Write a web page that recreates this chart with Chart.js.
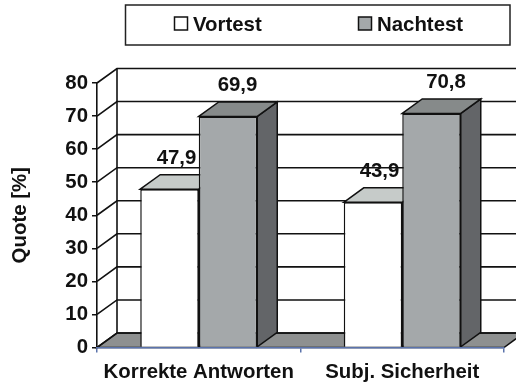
<!DOCTYPE html>
<html><head><meta charset="utf-8">
<style>html,body{margin:0;padding:0;background:#fff}canvas{display:block}</style>
<script src="https://cdn.jsdelivr.net/npm/chart.js@4"></script>
</head><body><canvas id="c" width="516" height="384"></canvas>
<script>
const categories = ["Korrekte Antworten", "Subj. Sicherheit"];
const vortest = [47.9, 43.9];
const nachtest = [69.9, 70.8];
const vortestLabel = "Vortest";
const nachtestLabel = "Nachtest";
const yTicks = [0, 10, 20, 30, 40, 50, 60, 70, 80];

const DX = 20, DY = 14.5;
const FAMILY = '"Liberation Sans", Arial, sans-serif';
const FONT = 'bold 20.4px ' + FAMILY;
const TICK_FONT = { family: FAMILY, size: 20.4, weight: 'bold' };
const faces = [
  { top: '#c6cbc9', side: '#64666a' },
  { top: '#868a8a', side: '#636568' }
];
const labelShift = [[7, 9.5], [6.5, 14.5]]; // per category, per dataset
const poly = (ctx, pts, fill) => {
  ctx.beginPath();
  pts.forEach((p, i) => i ? ctx.lineTo(p[0], p[1]) : ctx.moveTo(p[0], p[1]));
  ctx.closePath();
  ctx.fillStyle = fill; ctx.fill();
  ctx.lineWidth = 1.5; ctx.strokeStyle = '#111'; ctx.stroke();
};
const drawFaces = (ctx, meta, f) => {
  meta.data.forEach(b => {
    const l = b.x - b.width / 2, r = b.x + b.width / 2, t = b.y, base = b.base;
    poly(ctx, [[r, t], [r + DX, t - DY], [r + DX, base - DY], [r, base]], f.side);
    poly(ctx, [[l, t], [l + DX, t - DY], [r + DX, t - DY], [r, t]], f.top);
  });
};
const drawLabels = (chart, idx) => {
  const ctx = chart.ctx, ds = chart.data.datasets[idx];
  ctx.font = FONT; ctx.fillStyle = '#111';
  ctx.textAlign = 'center'; ctx.textBaseline = 'middle';
  chart.getDatasetMeta(idx).data.forEach((b, i) => {
    ctx.fillText(ds.data[i].toFixed(1).replace('.', ','), b.x + labelShift[i][idx], b.y - 31);
  });
};

const plugin3d = {
  id: 'threeD',
  beforeDraw(chart) {
    const ctx = chart.ctx, a = chart.chartArea, y = chart.scales.y;
    ctx.save();
    // legend frame and entries
    ctx.fillStyle = '#fff'; ctx.fillRect(125.5, 5, 384.5, 40);
    ctx.lineWidth = 1.5; ctx.strokeStyle = '#222'; ctx.strokeRect(125.5, 5, 384.5, 40);
    ctx.font = FONT; ctx.textBaseline = 'middle'; ctx.textAlign = 'left';
    [[174.5, '#fff', 193], [358.5, '#a4a8aa', 377]].forEach((e, i) => {
      ctx.fillStyle = e[1]; ctx.fillRect(e[0], 17, 13, 13);
      ctx.strokeStyle = '#111'; ctx.strokeRect(e[0], 17, 13, 13);
      ctx.fillStyle = '#111';
      ctx.fillText(chart.data.datasets[i].label, e[2], 25);
    });
    // floor
    poly(ctx, [[a.left, a.bottom], [a.left + DX, a.bottom - DY], [a.right + DX, a.bottom - DY], [a.right, a.bottom]], '#8e9090');
    // back wall grid and side wall
    ctx.lineWidth = 1.6; ctx.strokeStyle = '#111';
    y.ticks.forEach(t => {
      const py = y.getPixelForValue(t.value);
      ctx.beginPath();
      ctx.moveTo(a.left, py);
      ctx.lineTo(a.left + DX, py - DY);
      ctx.lineTo(a.right + DX, py - DY);
      ctx.stroke();
    });
    ctx.beginPath();
    ctx.moveTo(a.left + DX, y.getPixelForValue(80) - DY);
    ctx.lineTo(a.left + DX, y.getPixelForValue(0) - DY);
    ctx.stroke();
    ctx.restore();
  },
  beforeDatasetsDraw(chart) {
    // white bars' depth faces and labels lie behind the grey bars
    const ctx = chart.ctx;
    ctx.save();
    drawFaces(ctx, chart.getDatasetMeta(0), faces[0]);
    drawLabels(chart, 0);
    ctx.restore();
  },
  beforeDatasetDraw(chart, args) {
    if (args.index !== 1) return;
    const ctx = chart.ctx;
    ctx.save();
    drawFaces(ctx, args.meta, faces[1]);
    ctx.restore();
  },
  afterDatasetDraw(chart, args) {
    if (args.index !== 1) return;
    chart.ctx.save();
    drawLabels(chart, 1);
    chart.ctx.restore();
  }
};

new Chart(document.getElementById('c'), {
  type: 'bar',
  data: {
    labels: categories,
    datasets: [
      { label: vortestLabel, data: vortest, backgroundColor: '#ffffff', borderColor: '#111', borderWidth: 1.5, borderSkipped: 'bottom' },
      { label: nachtestLabel, data: nachtest, backgroundColor: '#a4a8aa', borderColor: '#111', borderWidth: 1.5, borderSkipped: 'bottom' }
    ]
  },
  options: {
    responsive: false,
    animation: false,
    layout: { padding: { left: 0, right: 12, top: 83, bottom: 0 } },
    plugins: { legend: { display: false }, tooltip: { enabled: false } },
    datasets: { bar: { categoryPercentage: 0.575, barPercentage: 1 } },
    scales: {
      x: {
        afterFit: s => { s.height = 36.5; },
        grid: { drawOnChartArea: false, color: '#5b73ab', lineWidth: 1.5, tickLength: 5 },
        border: { color: '#5b73ab', width: 1.5, z: 1 },
        ticks: { font: TICK_FONT, color: '#111', padding: 8, maxRotation: 0, autoSkip: false }
      },
      y: {
        min: 0, max: 80,
        afterFit: s => { s.width = 97; },
        afterBuildTicks: s => { s.ticks = yTicks.map(v => ({ value: v })); },
        grid: { drawOnChartArea: false, color: '#111', lineWidth: 1.5, tickLength: 5 },
        border: { color: '#111', width: 1.6 },
        ticks: { font: TICK_FONT, color: '#111', padding: 4 },
        title: { display: true, text: 'Quote [%]', color: '#111', font: TICK_FONT, padding: { top: 8, bottom: 0 } }
      }
    }
  },
  plugins: [plugin3d]
});
</script></body></html>
